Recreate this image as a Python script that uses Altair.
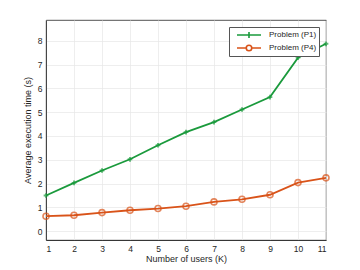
import altair as alt
import pandas as pd

users = list(range(1, 12))
p1 = [1.50, 2.03, 2.55, 3.02, 3.61, 4.16, 4.58, 5.11, 5.63, 7.29, 7.87]
p4 = [0.63, 0.67, 0.78, 0.88, 0.95, 1.05, 1.23, 1.34, 1.53, 2.04, 2.24]
series = ["Problem (P1)", "Problem (P4)"]
colors = ["#1a9a3c", "#d95319"]

rows = []
for s, vals in zip(series, [p1, p4]):
    for k, v in zip(users, vals):
        rows.append({"K": k, "t": v, "series": s})
df = pd.DataFrame(rows)
d1 = df[df.series == series[0]]
d4 = df[df.series == series[1]]

font = "Liberation Sans"
xenc = alt.X("K:Q", scale=alt.Scale(domain=[1, 11], nice=False, zero=False),
             axis=alt.Axis(values=users, title="Number of users (K)", grid=True))
yenc = alt.Y("t:Q", scale=alt.Scale(domain=[-0.37, 8.87], nice=False, zero=False),
             axis=alt.Axis(values=list(range(0, 9)), title="Average execution time (s)", grid=True))

plus_path = "M-2.4,0L2.4,0M0,-0.6L0,0.6M-0.6,0L0.6,0"
circ_path = "M-2.4,0L-0.55,0M0.55,0L2.4,0M0.55,0A0.55,0.55,0,1,1,-0.55,0A0.55,0.55,0,1,1,0.55,0"

legend = alt.Legend(
    title=None, orient="top-right", offset=7,
    fillColor="white", strokeColor="#555555", padding=2,
    labelFont=font, labelFontSize=8, labelColor="#262626",
    symbolSize=100, symbolStrokeWidth=1.6, symbolFillColor="transparent",
    symbolOpacity=1, rowPadding=0, labelOffset=14, symbolOffset=12,
)

leg_layer = alt.Chart(df).mark_point(opacity=0, filled=False).encode(
    x=xenc, y=yenc,
    color=alt.Color("series:N", scale=alt.Scale(domain=series, range=colors), legend=legend),
    shape=alt.Shape("series:N", scale=alt.Scale(domain=series, range=[plus_path, circ_path]), legend=legend),
)

line1 = alt.Chart(d1).mark_line(strokeWidth=1.8, color=colors[0]).encode(x=xenc, y=yenc)
line4 = alt.Chart(d4).mark_line(strokeWidth=1.8, color=colors[1]).encode(x=xenc, y=yenc)
pts1 = alt.Chart(d1).mark_point(shape="cross", filled=True, size=22, color=colors[0]).encode(x=xenc, y=yenc)
pts4 = alt.Chart(d4).mark_point(shape="circle", filled=False, size=36, strokeWidth=1.6,
                                color=colors[1]).encode(x=xenc, y=yenc)

chart = alt.layer(line1, line4, pts1, pts4, leg_layer).properties(
    width=280, height=220,
    autosize=alt.AutoSizeParams(type="none"),
    padding={"left": 38, "top": 12, "right": 26, "bottom": 30},
).configure_view(stroke="#262626", strokeWidth=0.8).configure_axis(
    labelFont=font, titleFont=font, labelFontSize=8.5, titleFontSize=9,
    labelColor="#262626", titleColor="#262626", titleFontWeight="normal",
    domainColor="#262626", domainWidth=0.8, ticks=False, labelPadding=4,
    gridColor="#e6e6e6", gridWidth=0.7,
).configure_axisX(titlePadding=2).configure_axisY(titlePadding=5)

chart.save("out.html", embed_options={"renderer": "svg", "actions": False})
